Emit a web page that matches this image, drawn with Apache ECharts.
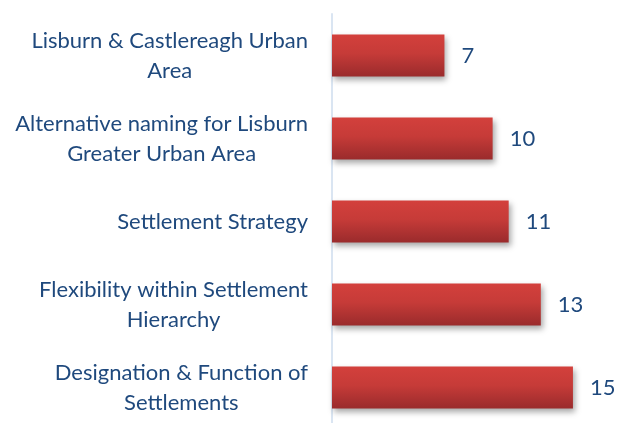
<!DOCTYPE html>
<html>
<head>
<meta charset="utf-8">
<script src="https://cdn.jsdelivr.net/npm/echarts@6/dist/echarts.min.js"></script>
<style>
  html, body { margin: 0; padding: 0; background: #fff; overflow: hidden; }
  /* taller than the window so the last category band can run past the bottom edge */
  #main { width: 617px; height: 440px; }
</style>
</head>
<body>
<div id="main"></div>
<script>
// categories, top to bottom
var categories = [
  'Lisburn & Castlereagh Urban\nArea',
  'Alternative naming for Lisburn\nGreater Urban Area',
  'Settlement Strategy',
  'Flexibility within Settlement\nHierarchy',
  'Designation & Function of\nSettlements'
];
var counts = [7, 10, 11, 13, 15];

var textColor = '#1F497D';
var fontFamily = 'Lato';

var chart = echarts.init(document.getElementById('main'));

var option = {
  animation: false,
  grid: {
    left: 332,
    top: 14,
    right: 28,
    height: 415
  },
  xAxis: {
    type: 'value',
    min: 0,
    max: 16,
    show: false
  },
  yAxis: {
    type: 'category',
    inverse: true,
    data: categories,
    axisTick: { show: false },
    axisLine: {
      show: true,
      lineStyle: { color: '#DAE5F2', width: 2 }
    },
    axisLabel: {
      margin: 24,
      align: 'right',
      formatter: function (val) {
        // centre each line inside the label block
        return val.split('\n').map(function (s) { return '{c|' + s + '}'; }).join('\n');
      },
      rich: {
        c: {
          align: 'center',
          color: textColor,
          fontFamily: fontFamily,
          fontSize: 22,
          lineHeight: 30
        }
      }
    }
  },
  series: [{
    type: 'bar',
    data: counts,
    barWidth: 42,
    itemStyle: {
      color: new echarts.graphic.LinearGradient(0, 0, 0, 1, [
        { offset: 0, color: '#D3403C' },
        { offset: 0.45, color: '#C63B38' },
        { offset: 1, color: '#9A2B2C' }
      ]),
      shadowColor: 'rgba(0,0,0,0.35)',
      shadowBlur: 6,
      shadowOffsetX: 2,
      shadowOffsetY: 3
    },
    label: {
      show: true,
      position: 'right',
      distance: 17,
      color: textColor,
      fontFamily: fontFamily,
      fontSize: 22
    }
  }]
};

chart.setOption(option);
</script>
</body>
</html>
